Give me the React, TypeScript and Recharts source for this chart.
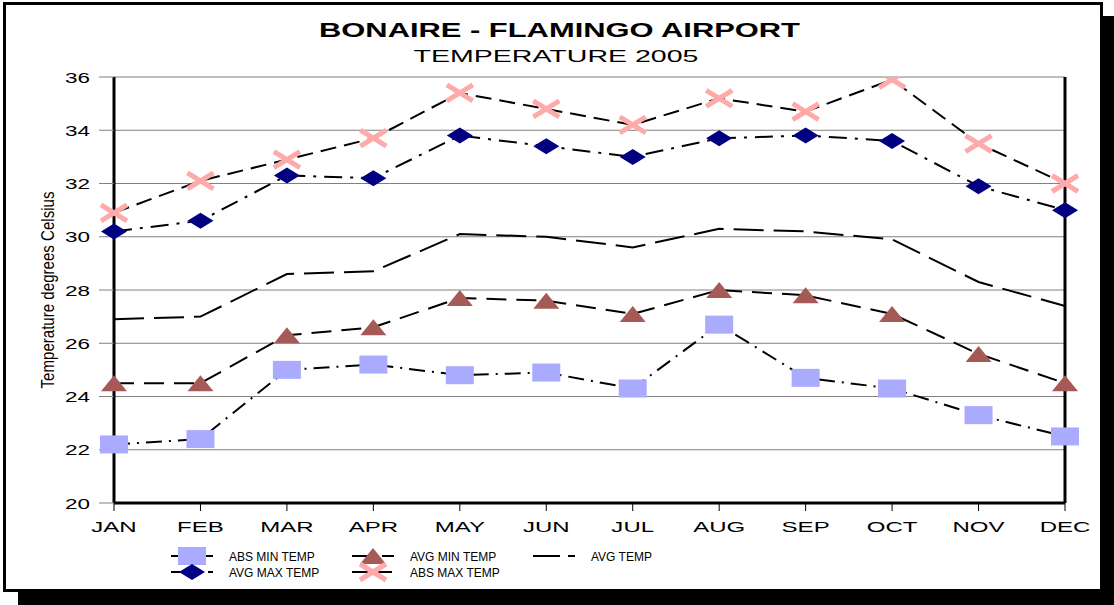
import React from 'react';
import { LineChart, Line, XAxis, YAxis, CartesianGrid, ReferenceLine } from 'recharts';

const months = ['JAN', 'FEB', 'MAR', 'APR', 'MAY', 'JUN', 'JUL', 'AUG', 'SEP', 'OCT', 'NOV', 'DEC'];
const absMinTemp = [22.2, 22.4, 25.0, 25.2, 24.8, 24.9, 24.3, 26.7, 24.7, 24.3, 23.3, 22.5];
const avgMinTemp = [24.5, 24.5, 26.3, 26.6, 27.7, 27.6, 27.1, 28.0, 27.8, 27.1, 25.6, 24.5];
const avgTemp = [26.9, 27.0, 28.6, 28.7, 30.1, 30.0, 29.6, 30.3, 30.2, 29.9, 28.3, 27.4];
const avgMaxTemp = [30.2, 30.6, 32.3, 32.2, 33.8, 33.4, 33.0, 33.7, 33.8, 33.6, 31.9, 31.0];
const absMaxTemp = [30.9, 32.1, 32.9, 33.7, 35.4, 34.8, 34.2, 35.2, 34.7, 35.9, 33.5, 32.0];
const yTicks = [20, 22, 24, 26, 28, 30, 32, 34, 36];

const data = months.map((month, i) => ({
  month,
  absMin: absMinTemp[i],
  avgMin: avgMinTemp[i],
  avg: avgTemp[i],
  avgMax: avgMaxTemp[i],
  absMax: absMaxTemp[i],
}));

const FONT = "'Liberation Sans', Arial, sans-serif";
const SQUARE = '#AAAAFF';
const TRIANGLE = '#A65A55';
const DIAMOND = '#000080';
const CROSS = '#FFAAAA';

type Kind = 'square' | 'triangle' | 'diamond' | 'cross' | 'none';

function Marker({ kind, cx, cy }: { kind: Kind; cx: number; cy: number }) {
  if (kind === 'square') return <rect x={cx - 14} y={cy - 9} width={28} height={18} fill={SQUARE} />;
  if (kind === 'triangle')
    return <polygon points={`${cx - 13},${cy + 8} ${cx},${cy - 8} ${cx + 13},${cy + 8}`} fill={TRIANGLE} />;
  if (kind === 'diamond')
    return <polygon points={`${cx - 13},${cy} ${cx},${cy - 8} ${cx + 13},${cy} ${cx},${cy + 8}`} fill={DIAMOND} />;
  if (kind === 'cross')
    return (
      <g stroke={CROSS} strokeWidth={5}>
        <line x1={cx - 13} y1={cy - 8} x2={cx + 13} y2={cy + 8} />
        <line x1={cx - 13} y1={cy + 8} x2={cx + 13} y2={cy - 8} />
      </g>
    );
  return null;
}

const dotFor = (kind: Kind) => (p: any) =>
  <Marker key={`${kind}-${p.index}`} kind={kind} cx={p.cx} cy={p.cy} />;

// the original picture is stretched sideways, so the tick text is too
const MonthTick = (props: any) => {
  const { x, y, payload } = props;
  return (
    <g transform={`translate(${x},${y + 19}) scale(1.55,1)`}>
      <text x={0} y={0} textAnchor="middle" fontFamily={FONT} fontSize={15.5} fill="#000">
        {payload.value}
      </text>
    </g>
  );
};

const TempTick = (props: any) => {
  const { x, y, payload } = props;
  return (
    <g transform={`translate(${x},${y + 5.5}) scale(1.5,1)`}>
      <text x={0} y={0} textAnchor="end" fontFamily={FONT} fontSize={15} fill="#000">
        {payload.value}
      </text>
    </g>
  );
};

const legendItems: { name: string; kind: Kind; dash: string; x: number; y: number }[] = [
  { name: 'ABS MIN TEMP', kind: 'square', dash: '16 7 2 7', x: 171, y: 556 },
  { name: 'AVG MIN TEMP', kind: 'triangle', dash: '20 10', x: 352, y: 556 },
  { name: 'AVG TEMP', kind: 'none', dash: '27 8', x: 533, y: 556 },
  { name: 'AVG MAX TEMP', kind: 'diamond', dash: '18 8 3 8', x: 171, y: 572 },
  { name: 'ABS MAX TEMP', kind: 'cross', dash: '16 8', x: 352, y: 572 },
];

export default function App() {
  return (
    <div style={{ position: 'absolute', left: 0, top: 0, width: 1114, height: 605, overflow: 'hidden' }}>
      <div style={{ position: 'absolute', left: 18, top: 16, width: 1096, height: 589, background: '#000' }} />
      <div
        style={{
          position: 'absolute',
          left: 3,
          top: 2,
          width: 1100,
          height: 590,
          boxSizing: 'border-box',
          border: '3px solid #000',
          background: '#fff',
        }}
      />
      <div style={{ position: 'absolute', left: 0, top: 0 }}>
        <LineChart width={1114} height={605} data={data} margin={{ top: 77, right: 49, bottom: 72, left: 34 }}>
          <CartesianGrid vertical={false} stroke="#808080" strokeWidth={1} />
          <XAxis
            dataKey="month"
            height={30}
            axisLine={{ stroke: '#000', strokeWidth: 3 }}
            tickLine={{ stroke: '#000', strokeWidth: 1 }}
            tickSize={8}
            tickMargin={2}
            tick={<MonthTick />}
            interval={0}
          />
          <YAxis
            width={80}
            domain={[20, 36]}
            ticks={yTicks}
            allowDataOverflow
            axisLine={{ stroke: '#000', strokeWidth: 3 }}
            tickLine={{ stroke: '#808080', strokeWidth: 1 }}
            tickSize={15}
            tickMargin={9}
            tick={<TempTick />}
            label={{
              content: (lp: any) => {
                const vb = lp.viewBox || { x: 34, y: 77, width: 80, height: 426 };
                const cx = vb.x + 14;
                const cy = vb.y + vb.height / 2;
                return (
                  <text
                    x={cx}
                    y={cy}
                    transform={`rotate(-90 ${cx} ${cy})`}
                    textAnchor="middle"
                    dominantBaseline="central"
                    fontFamily={FONT}
                    fontSize={18}
                    textLength={197}
                    lengthAdjust="spacingAndGlyphs"
                    fill="#000"
                  >
                    Temperature degrees Celsius
                  </text>
                );
              },
            }}
          />
          <ReferenceLine x="DEC" stroke="#000" strokeWidth={3} />
          <Line dataKey="avg" stroke="#000" strokeWidth={2} strokeDasharray="30 10" dot={false} isAnimationActive={false} />
          <Line dataKey="absMin" stroke="#000" strokeWidth={2} strokeDasharray="16 7 2 7" dot={dotFor('square')} isAnimationActive={false} />
          <Line dataKey="avgMin" stroke="#000" strokeWidth={2} strokeDasharray="20 10" dot={dotFor('triangle')} isAnimationActive={false} />
          <Line dataKey="avgMax" stroke="#000" strokeWidth={2} strokeDasharray="18 8 3 8" dot={dotFor('diamond')} isAnimationActive={false} />
          <Line dataKey="absMax" stroke="#000" strokeWidth={2} strokeDasharray="16 8" dot={dotFor('cross')} isAnimationActive={false} />
        </LineChart>
      </div>
      <svg width={1114} height={605} style={{ position: 'absolute', left: 0, top: 0, pointerEvents: 'none' }}>
        <text x={559.5} y={37} textAnchor="middle" fontFamily={FONT} fontWeight="bold" fontSize={19.5} textLength={481} lengthAdjust="spacingAndGlyphs" fill="#000">
          BONAIRE - FLAMINGO AIRPORT
        </text>
        <text x={556} y={62} textAnchor="middle" fontFamily={FONT} fontSize={16.5} textLength={285} lengthAdjust="spacingAndGlyphs" fill="#000">
          TEMPERATURE 2005
        </text>
        {legendItems.map((it) => (
          <g key={it.name}>
            <line x1={it.x} y1={it.y} x2={it.x + 42} y2={it.y} stroke="#000" strokeWidth={2} strokeDasharray={it.dash} />
            <Marker kind={it.kind} cx={it.x + 21} cy={it.y} />
            <text x={it.x + 58} y={it.y + 4.5} fontFamily={FONT} fontSize={12} fill="#000">
              {it.name}
            </text>
          </g>
        ))}
      </svg>
    </div>
  );
}
